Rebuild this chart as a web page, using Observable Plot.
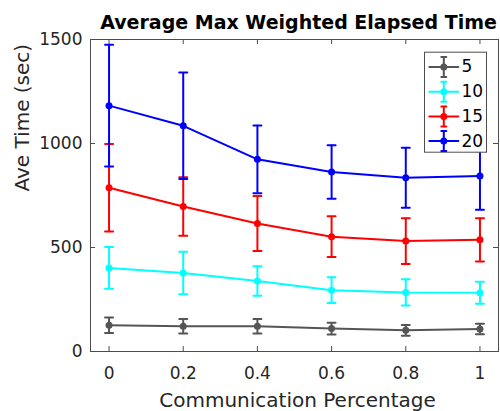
<!DOCTYPE html>
<html><head><meta charset="utf-8">
<script src="https://cdn.jsdelivr.net/npm/d3@7"></script>
<script src="https://cdn.jsdelivr.net/npm/@observablehq/plot@0.6"></script>
<style>body{margin:0;background:#fff}</style>
</head><body><div id="chart"></div>
<script>
const pcts = [0, 0.2, 0.4, 0.6, 0.8, 1];
const seriesNames = ["5", "10", "15", "20"];
const seriesColors = ["#555555", "#00ffff", "#ff0000", "#0000ff"];
const mean5 = [126, 121, 121, 110, 102, 108];
const err5 = [37, 35, 35, 28, 26, 25];
const mean10 = [402, 377, 339, 295, 284, 282];
const err10 = [100, 102, 71, 62, 63, 53];
const mean15 = [787, 697, 615, 552, 531, 537];
const err15 = [210, 141, 132, 98, 110, 104];
const mean20 = [1182, 1085, 924, 863, 835, 844];
const err20 = [293, 256, 163, 129, 144, 162];
const xTicks = [0, 0.2, 0.4, 0.6, 0.8, 1];
const yTicks = [0, 500, 1000, 1500];
const title = "Average Max Weighted Elapsed Time";
const xLabel = "Communication Percentage";
const yLabel = "Ave Time (sec)";

const means = [mean5, mean10, mean15, mean20];
const errs = [err5, err10, err15, err20];

const W = 500, H = 411, mL = 90, mR = 2, mT = 39, mB = 60;
const fw = W - mL - mR, fh = H - mT - mB;
const tk = 5;
const ink = "#262626";
const axisInk = "#4d4d4d";

const hSeg = {draw(c, l) { c.moveTo(-l / 2, 0); c.lineTo(l / 2, 0); }};
const vBar = {draw(c, l) { const h = l / 2, w = 2.5; c.moveTo(0, -h); c.lineTo(0, h); c.moveTo(-w, -h); c.lineTo(w, -h); c.moveTo(-w, h); c.lineTo(w, h); }};

const marks = [
  Plot.gridX(xTicks, {insetTop: fh - tk, stroke: axisInk, strokeOpacity: 1}),
  Plot.gridX(xTicks, {insetBottom: fh - tk, stroke: axisInk, strokeOpacity: 1}),
  Plot.gridY(yTicks, {insetRight: fw - tk, stroke: axisInk, strokeOpacity: 1}),
  Plot.gridY(yTicks, {insetLeft: fw - tk, stroke: axisInk, strokeOpacity: 1}),
  Plot.axisX(xTicks, {tickSize: 0, tickPadding: 15, tickFormat: d => String(d), label: null, fontSize: 17, fill: ink}),
  Plot.axisY(yTicks, {tickSize: 0, tickPadding: 8, tickFormat: d => String(d), label: null, fontSize: 17, fill: ink})
];

seriesNames.forEach((s, i) => {
  const rows = pcts.map((p, j) => ({series: s, p, m: means[i][j], lo: means[i][j] - errs[i][j], hi: means[i][j] + errs[i][j]}));
  marks.push(
    Plot.line(rows, {x: "p", y: "m", stroke: "series", strokeWidth: 2}),
    Plot.ruleX(rows, {x: "p", y1: "lo", y2: "hi", stroke: "series", strokeWidth: 2}),
    Plot.vector(rows, {x: "p", y: "hi", length: 8, shape: hSeg, anchor: "start", stroke: "series", strokeWidth: 2}),
    Plot.vector(rows, {x: "p", y: "lo", length: 8, shape: hSeg, anchor: "start", stroke: "series", strokeWidth: 2}),
    Plot.dot(rows, {x: "p", y: "m", fill: "series", r: 3.5})
  );
});

marks.push(Plot.frame({stroke: axisInk}));

// legend
marks.push(Plot.frame({insetLeft: fw - 74, insetRight: 12, insetTop: 12.7, insetBottom: fh - 112.7, fill: "white", stroke: axisInk}));
seriesNames.forEach((s, i) => {
  const dy = 27.5 + i * 24.7;
  marks.push(
    Plot.vector([s], {frameAnchor: "top-right", dx: -54.7, dy, length: 29, shape: hSeg, anchor: "start", stroke: seriesColors[i], strokeWidth: 2}),
    Plot.vector([s], {frameAnchor: "top-right", dx: -54.7, dy, length: 20, shape: vBar, anchor: "start", stroke: seriesColors[i], strokeWidth: 2}),
    Plot.dot([s], {frameAnchor: "top-right", dx: -54.7, dy, r: 3.5, fill: seriesColors[i]}),
    Plot.text([s], {frameAnchor: "top-right", dx: -37, dy, text: d => d, textAnchor: "start", lineAnchor: "middle", fontSize: 17, fill: "#000"})
  );
});

// titles
marks.push(
  Plot.text([title], {frameAnchor: "top", dx: 4, dy: -10.7, text: d => d, lineAnchor: "bottom", fontSize: 19, fontWeight: "bold", fill: "#000"}),
  Plot.text([xLabel], {frameAnchor: "bottom", dx: 3, dy: 55.5, text: d => d, lineAnchor: "bottom", fontSize: 20, fill: ink}),
  Plot.text([yLabel], {frameAnchor: "left", dx: -68, dy: -4, rotate: -90, text: d => d, lineAnchor: "middle", fontSize: 20, fill: ink})
);

const chart = Plot.plot({
  width: W, height: H,
  marginLeft: mL, marginRight: mR, marginTop: mT, marginBottom: mB,
  x: {domain: [-0.05, 1.05], axis: null},
  y: {domain: [0, 1500], axis: null},
  color: {domain: seriesNames, range: seriesColors},
  style: {fontFamily: "'DejaVu Sans', sans-serif", fontSize: "17px", background: "white", color: ink, overflow: "visible"},
  marks
});
document.getElementById("chart").appendChild(chart);
</script>
</body></html>
